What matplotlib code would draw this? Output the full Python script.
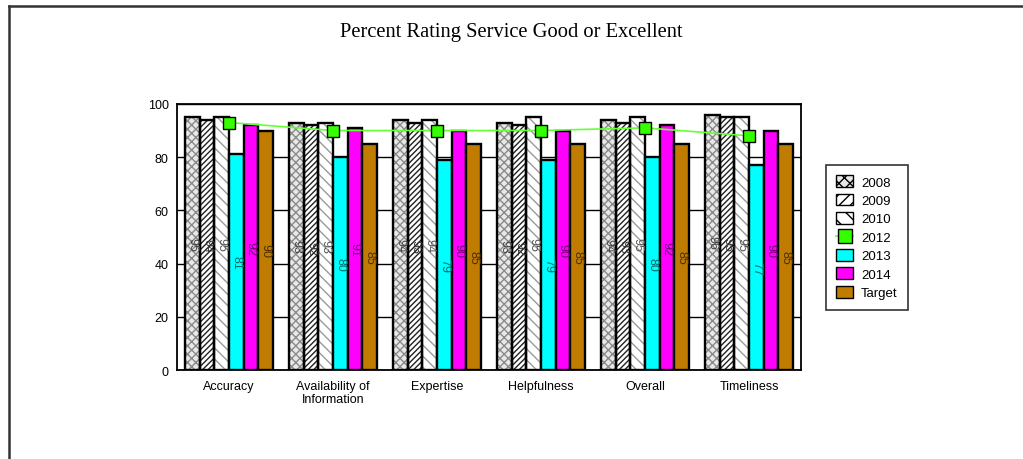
import numpy as np
import matplotlib
matplotlib.use("Agg")
import matplotlib.pyplot as plt
from matplotlib.patches import Patch
from matplotlib.lines import Line2D

categories = ["Accuracy", "Availability of\nInformation", "Expertise",
              "Helpfulness", "Overall", "Timeliness"]

y2008 = [95, 93, 94, 93, 94, 96]
y2009 = [94, 92, 93, 92, 93, 95]
y2010 = [95, 93, 94, 95, 95, 95]
y2012 = [93, 90, 90, 90, 91, 88]
y2013 = [81, 80, 79, 79, 80, 77]
y2014 = [92, 91, 90, 90, 92, 90]
target = [90, 85, 85, 85, 85, 85]

plt.rcParams['font.family'] = ['Liberation Sans', 'DejaVu Sans']

fig = plt.figure(figsize=(10.23, 4.6), dpi=100)
ax = fig.add_axes([0.173, 0.193, 0.610, 0.579])

x = np.arange(len(categories))
w = 0.14
offsets = np.array([-2.5, -1.5, -0.5, 0.5, 1.5, 2.5]) * w

# (values, fill, hatch, hatch colour, label colour, name)
bar_series = [
    (y2008, '#e8e8e8', 'xxxx', '#8a8a8a', '#444444', '2008'),
    (y2009, 'white', '//////', '#222222', '#333333', '2009'),
    (y2010, 'white', '\\\\\\', '#9a9a9a', '#555555', '2010'),
    (y2013, '#00ffff', None, None, '#006a6a', '2013'),
    (y2014, '#ff00ff', None, None, '#700070', '2014'),
    (target, '#c07c00', None, None, '#4a3000', 'Target'),
]

for off, (vals, fill, hatch, hcol, lcol, name) in zip(offsets, bar_series):
    if hatch:
        ax.bar(x + off, vals, w, color=fill, edgecolor=hcol, hatch=hatch,
               linewidth=0, zorder=2)
        ax.bar(x + off, vals, w, fill=False, edgecolor='black', linewidth=1.7, zorder=3)
    else:
        ax.bar(x + off, vals, w, color=fill, edgecolor='black', linewidth=1.7, zorder=3)
    for xi, v in zip(x + off, vals):
        ax.text(xi, v / 2, str(v), rotation=270, ha='center', va='center',
                fontsize=9, color=lcol, zorder=4)

ax.plot(x, y2012, color='#66ff33', lw=1.2, zorder=5)
ax.plot(x, y2012, ls='none', marker='s', ms=9, mfc='#33ff00', mec='black',
        mew=1, zorder=6)

ax.set_xlim(-0.5, len(categories) - 0.5)
ax.set_ylim(0, 100)
ax.set_yticks([0, 20, 40, 60, 80, 100])
ax.yaxis.grid(True, color='black', lw=1)
ax.set_axisbelow(True)
ax.set_xticks(x)
ax.set_xticklabels(categories, fontsize=9, linespacing=1.1)
ax.tick_params(axis='both', length=0, labelsize=9)
ax.tick_params(axis='y', pad=6)
ax.tick_params(axis='x', pad=7)
for s in ax.spines.values():
    s.set_linewidth(1.3)

fig.text(0.5, 0.93, "Percent Rating Service Good or Excellent",
         ha='center', va='center', fontsize=14.8, family='Liberation Serif')

handles = [
    Patch(facecolor='#e8e8e8', edgecolor='black', hatch='xxx', label='2008'),
    Patch(facecolor='white', edgecolor='black', hatch='///', label='2009'),
    Patch(facecolor='white', edgecolor='black', hatch='\\\\', label='2010'),
    Line2D([0], [0], color='#66ff33', lw=1.2, marker='s', ms=10,
           mfc='#33ff00', mec='black', label='2012'),
    Patch(facecolor='#00ffff', edgecolor='black', label='2013'),
    Patch(facecolor='#ff00ff', edgecolor='black', label='2014'),
    Patch(facecolor='#c07c00', edgecolor='black', label='Target'),
]
leg = fig.legend(handles=handles, loc='upper left', bbox_to_anchor=(0.807, 0.64),
                 fontsize=9.5, frameon=True, fancybox=False, edgecolor='black',
                 handlelength=1.3, handleheight=1.0, labelspacing=0.38,
                 borderpad=0.8, handletextpad=0.6, borderaxespad=0)
leg.get_frame().set_linewidth(1.2)

# outer frame of the page
fig.add_artist(Line2D([9 / 1023, 9 / 1023], [0, 1 - 7 / 460], color='#333333', lw=1.8))
fig.add_artist(Line2D([9 / 1023, 1], [1 - 7 / 460, 1 - 7 / 460], color='#333333', lw=1.8))

fig.savefig("out.png", dpi=100)
